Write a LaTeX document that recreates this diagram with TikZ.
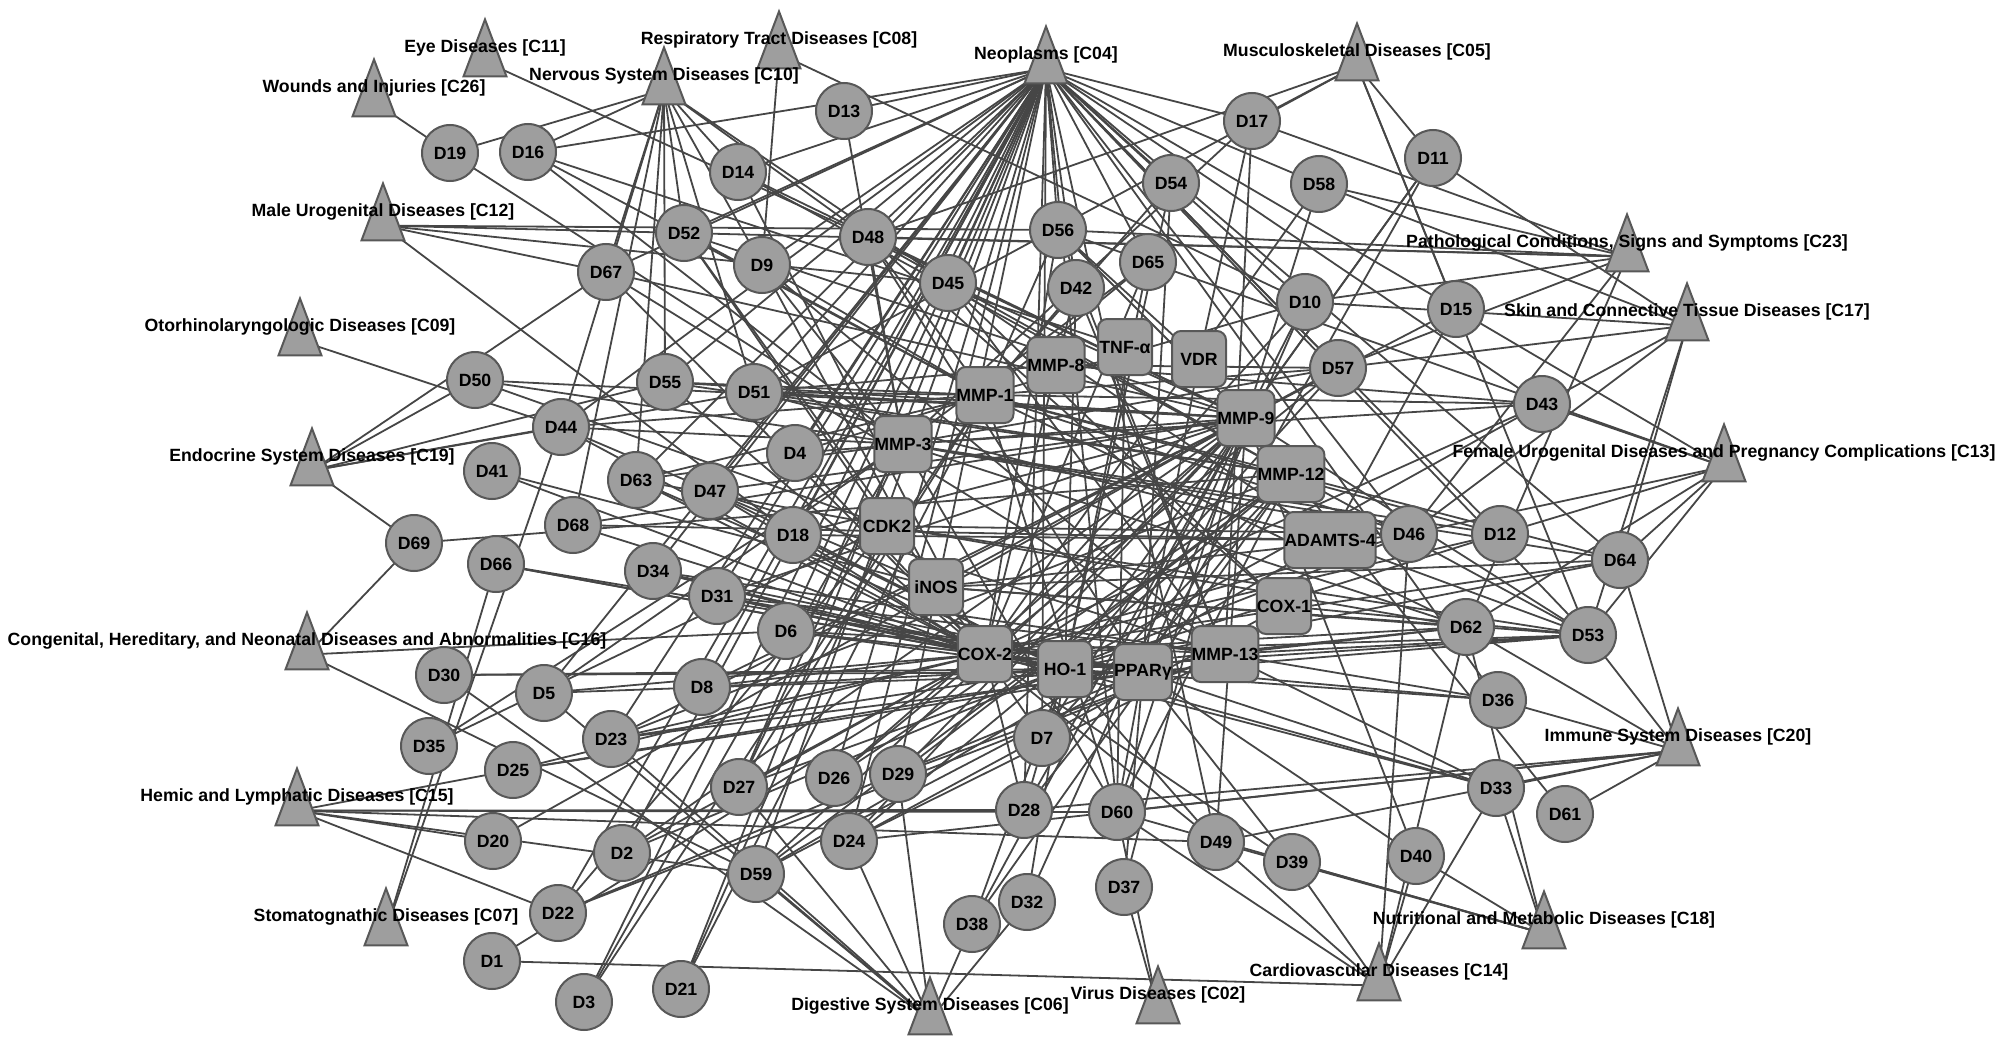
\documentclass[tikz,border=0pt]{standalone}
\usepackage{fontspec}
\setmainfont{Liberation Sans}
\usetikzlibrary{shapes.geometric,backgrounds}

\definecolor{nodegray}{RGB}{158,158,158}
\definecolor{nodeline}{RGB}{88,88,88}
\definecolor{edgegray}{RGB}{70,70,70}

\begin{document}
\begin{tikzpicture}[x=1pt,y=-1pt]

\def\nodesize{56}
\def\tridrop{13.6} % <-- incircle centre below the box centre
\def\labelfont{\bfseries\fontsize{17.7}{18}\selectfont}

\tikzset{
    drug/.style={
        circle,
        draw=nodeline,
        fill=nodegray,
        line width=2pt,
        minimum size=\nodesize pt,
        inner sep=0pt,
        font=\labelfont
    },
    gene/.style={
        rectangle,
        rounded corners=9pt,
        draw=nodeline,
        fill=nodegray,
        line width=2pt,
        minimum width=54pt,
        minimum height=56pt,
        inner sep=0pt,
        font=\labelfont
    },
    disease/.style={
        isosceles triangle,
        isosceles triangle stretches,
        shape border rotate=90,
        draw=nodeline,
        fill=nodegray,
        line width=2pt,
        minimum width=43pt,
        minimum height=57pt,
        inner sep=0pt
    },
    tlabel/.style={
        inner sep=0pt,
        yshift=\tridrop pt,
        font=\labelfont
    },
    link/.style={
        draw=edgegray,
        line width=1.8pt
    }
}

\useasboundingbox (0,0) rectangle (2008,1046);

% Drugs
\foreach \n/\x/\y in {1/492/961, 2/622/853, 3/584/1002, 4/795/453, 5/544/693,
    6/786/631, 7/1042/738, 8/702/687, 9/762/265, 10/1305/302,
    11/1433/158, 12/1500/534, 13/844/111, 14/738/172, 15/1456/309,
    16/528/152, 17/1252/121, 18/793/535, 19/450/153, 20/493/841,
    21/681/989, 22/558/913, 23/611/739, 24/849/841, 25/513/770,
    26/834/778, 27/739/787, 28/1024/810, 29/898/774, 30/444/675,
    31/717/596, 32/1027/902, 33/1496/788, 34/653/571, 35/429/746,
    36/1498/700, 37/1124/887, 38/972/924, 39/1292/862, 40/1416/856,
    41/492/471, 42/1076/288, 43/1542/404, 44/561/427, 45/948/283,
    46/1409/534, 47/710/491, 48/868/237, 49/1216/842, 50/475/380,
    51/754/392, 52/684/233, 53/1588/635, 54/1171/183, 55/665/382,
    56/1058/230, 57/1338/368, 58/1319/184, 59/756/874, 60/1117/812,
    61/1565/814, 62/1466/627, 63/636/480, 64/1620/560, 65/1148/262,
    66/496/564, 67/606/272, 68/573/525, 69/414/543}{
    \node[drug] (d\n) at (\x,\y) {D\n};
}

% Targets
\foreach \n/\x/\y/\t in {mmp1/985/395/MMP-1, mmp8/1056/365/MMP-8,
    tnfa/1125/347/TNF-α, vdr/1199/359/VDR, mmp9/1246/418/MMP-9,
    mmp3/903/444/MMP-3, mmp12/1291/474/MMP-12, cdk2/887/526/CDK2,
    adamts4/1330/540/ADAMTS-4, inos/936/587/iNOS, cox1/1284/606/COX-1,
    cox2/985/654/COX-2, ho1/1065/669/HO-1, ppar/1143/672/PPARγ,
    mmp13/1225/654/MMP-13}{
    \node[gene] (\n) at (\x,\y) {\t};
}

% Disease classes
\foreach \n/\x/\y/\t in {c02/1158/995/Virus Diseases [C02],
    c04/1046/55/Neoplasms [C04],
    c05/1357/52/Musculoskeletal Diseases [C05],
    c06/930/1006/Digestive System Diseases [C06],
    c07/386/917/Stomatognathic Diseases [C07],
    c08/779/40/Respiratory Tract Diseases [C08],
    c09/300/327/Otorhinolaryngologic Diseases [C09],
    c10/664/76/Nervous System Diseases [C10],
    c11/485/48/Eye Diseases [C11],
    c12/383/212/Male Urogenital Diseases [C12],
    c13/1724/453/Female Urogenital Diseases and Pregnancy Complications [C13],
    c14/1379/972/Cardiovascular Diseases [C14],
    c15/297/797/Hemic and Lymphatic Diseases [C15],
    c16/307/641/{Congenital, Hereditary, and Neonatal Diseases and Abnormalities [C16]},
    c17/1687/312/Skin and Connective Tissue Diseases [C17],
    c18/1544/920/Nutritional and Metabolic Diseases [C18],
    c19/312/457/Endocrine System Diseases [C19],
    c20/1678/737/Immune System Diseases [C20],
    c23/1627/243/{Pathological Conditions, Signs and Symptoms [C23]},
    c26/374/88/Wounds and Injuries [C26]}{
    \node[disease, label={[tlabel]center:\t}] (\n) at (\x,\y+\tridrop) {};
}

\begin{scope}[on background layer]
% Drug - target links
\foreach \s/\ts in {1/{cox2}, 2/{cox2,ho1,mmp9}, 3/{mmp1,mmp3},
    4/{mmp9,cox2,mmp1}, 5/{cox2,ppar,mmp3}, 6/{mmp13,cox2,ho1,ppar},
    7/{mmp9,mmp12,cox2}, 8/{mmp9,cox2,ho1}, 9/{mmp1,mmp3,mmp13,inos},
    10/{mmp9,mmp1,ppar,cox2}, 11/{mmp9,ppar,ho1}, 12/{mmp1,mmp3,cox2,ho1},
    13/{mmp3}, 14/{mmp12,mmp9,cox2}, 15/{mmp9,adamts4}, 16/{mmp1,mmp3,tnfa},
    17/{mmp3,mmp13,vdr}, 18/{mmp9,adamts4,cox2,ho1}, 19/{mmp3}, 20/{mmp9},
    21/{mmp1,cdk2}, 22/{cdk2,mmp13,ppar}, 23/{mmp9,mmp12,cox2,ho1,ppar},
    24/{mmp9,mmp12,mmp13,cox1}, 25/{cox2,ppar,mmp13}, 26/{mmp9,mmp12,cox2},
    27/{mmp1,mmp3,cox2,ho1}, 28/{ho1,mmp9,mmp12,cox2}, 29/{mmp13,mmp12,mmp9},
    30/{ho1,ppar}, 31/{cox2,ho1,ppar,mmp13,mmp9}, 32/{ho1,mmp9},
    33/{cox2,ho1,ppar,mmp13}, 34/{cox2,ho1,ppar,mmp13}, 35/{cdk2,mmp3},
    36/{cox2,ho1,mmp13}, 37/{ppar,mmp9}, 38/{mmp12,mmp9,ho1}, 39/{ppar,cox2},
    40/{mmp9,ppar}, 41/{inos,cox2}, 42/{mmp1,mmp13,ho1,cox2},
    43/{mmp1,mmp3,mmp8,cox2,ho1}, 44/{mmp3,mmp1,cox2,inos},
    45/{mmp9,mmp13,adamts4,cox1}, 46/{mmp1,mmp3,cox2,ho1,inos,cdk2},
    47/{mmp9,mmp13,cox2,ho1}, 48/{mmp1,mmp3,mmp12,ppar,mmp9,cox1},
    49/{mmp9,ho1,cox2}, 50/{mmp3,mmp9,cdk2}, 51/{mmp1,mmp8,mmp9,mmp12,adamts4},
    52/{mmp1,mmp9,cox2,cdk2},
    53/{mmp13,cox2,ho1,ppar,cox1,adamts4,mmp12,mmp9,inos,cdk2},
    54/{ho1,ppar,mmp1}, 55/{mmp1,mmp9,mmp12,cox2}, 56/{mmp1,mmp9,mmp13,cox2,vdr},
    57/{mmp1,mmp3,mmp8,cox2,ho1,inos}, 58/{mmp9,cox2},
    59/{mmp9,mmp12,ppar,adamts4}, 60/{mmp9,mmp12,mmp3,mmp1,tnfa,vdr},
    61/{mmp12}, 62/{mmp3,mmp1,cdk2,inos,cox2,ho1,mmp13},
    63/{mmp1,mmp3,cdk2,cox2,ho1}, 64/{mmp1,mmp3,inos,cox2,ho1},
    65/{mmp1,ho1,cox2,mmp3}, 66/{cox2,ho1,ppar}, 67/{mmp9,mmp13,cox2},
    68/{cox2,mmp9,adamts4}, 69/{mmp12}}{
    \foreach \t in \ts
        \draw[link] (d\s.center) -- (\t.center);
}

% Disease - drug links
\foreach \s/\ds in {c26/{19}, c11/{48}, c12/{67,52,56,18,45}, c09/{44},
    c10/{19,16,67,52,9,48,45,44,55,68,63,51,14}, c08/{9,10},
    c04/{13,16,14,52,9,48,45,51,55,67,44,63,47,4,18,34,31,6,8,23,27,26,29,
         24,59,2,22,21,3,5,56,42,65,54,17,10,15,58,57,43,46,12,53,64,36,28,
         7,60,49},
    c05/{11,15,53,17,48,51}, c23/{58,52,48,56,17,62,46,57,10},
    c17/{11,58,64,53,43,57,10,46}, c13/{15,43,46,53,64,56,12,62},
    c20/{36,33,61,53,64,62,60,24,49,28}, c18/{33,40,39,49,60,62},
    c14/{1,40,33,39,60,62,49,46}, c02/{37,60},
    c06/{59,24,29,38,32,5,30,23,27}, c07/{66,44},
    c15/{25,20,22,59,60,28,49}, c16/{69,59,6},
    c19/{50,44,55,69,67,51}}{
    \foreach \d in \ds
        \draw[link] (\s.center) -- (d\d.center);
}
\end{scope}

\end{tikzpicture}
\end{document}
